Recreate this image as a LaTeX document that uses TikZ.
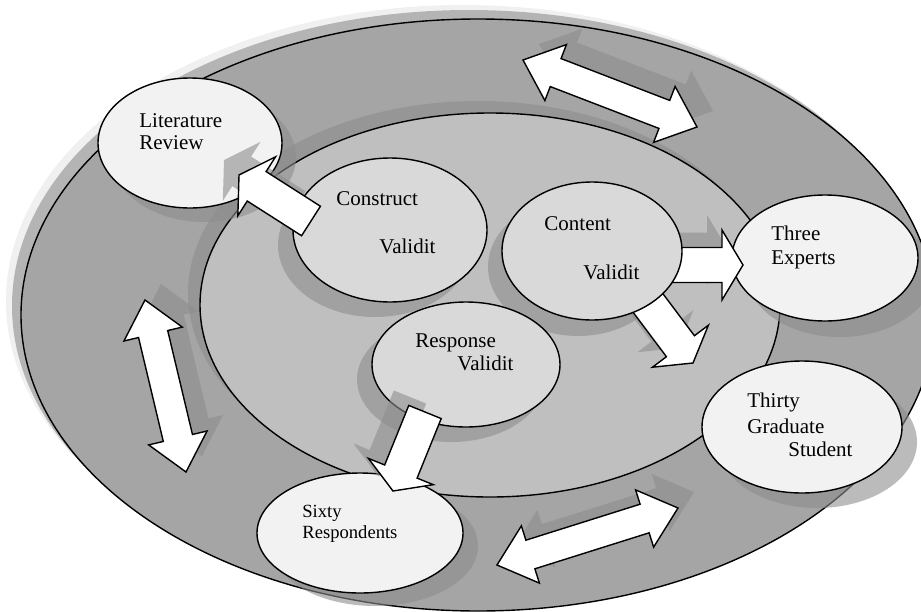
\documentclass[tikz,border=0pt]{standalone}
\usepackage{fontspec}
\setmainfont{Liberation Serif}
\usetikzlibrary{shapes.geometric,calc}
\definecolor{ringc}{HTML}{A5A5A5}
\definecolor{innerc}{HTML}{BFBFBF}
\definecolor{midc}{HTML}{D9D9D9}
\definecolor{lightc}{HTML}{F2F2F2}
\definecolor{shadc}{HTML}{8D8D8D}
% single block arrow: #1 start, #2 tip, #3 style
\newcommand\ArrS[3]{%
  \coordinate (hb) at ($(#2)!10.5pt!(#1)$);
  \draw[#3] ($(#1)!8.75pt!90:(#2)$) -- ($(hb)!8.75pt!90:(#2)$) -- ($(hb)!17.5pt!90:(#2)$) -- (#2)
    -- ($(hb)!17.5pt!-90:(#2)$) -- ($(hb)!8.75pt!-90:(#2)$) -- ($(#1)!8.75pt!-90:(#2)$) -- cycle;}
% double block arrow: #1 tip, #2 tip, #3 style
\newcommand\ArrD[3]{%
  \coordinate (ha) at ($(#1)!17.5pt!(#2)$);
  \coordinate (hc) at ($(#2)!17.5pt!(#1)$);
  \draw[#3] (#1) -- ($(ha)!15pt!90:(#2)$) -- ($(ha)!7.5pt!90:(#2)$) -- ($(hc)!7.5pt!-90:(#1)$)
    -- ($(hc)!15pt!-90:(#1)$) -- (#2) -- ($(hc)!15pt!90:(#1)$) -- ($(hc)!7.5pt!90:(#1)$)
    -- ($(ha)!7.5pt!-90:(#2)$) -- ($(ha)!15pt!-90:(#2)$) -- cycle;}
\newcommand\ShS[3]{\coordinate (sa) at ($(#1)+(#3)$);\coordinate (sb) at ($(#2)+(#3)$);\ArrS{sa}{sb}{shad}}
\newcommand\ShD[3]{\coordinate (sa) at ($(#1)+(#3)$);\coordinate (sb) at ($(#2)+(#3)$);\ArrD{sa}{sb}{shad}}
\tikzset{
  shad/.style={fill=shadc, fill opacity=0.6, draw=none},
  blk/.style={draw=black, fill=white, line width=0.7pt, line join=miter},
  outl/.style={draw=black, line width=0.7pt},
  bignode/.style={ellipse, outl, fill=lightc, inner sep=0pt},
  smallnode/.style={ellipse, outl, fill=midc, inner sep=0pt},
  txt/.style={anchor=base west, inner sep=0pt, font=\fontsize{10.5pt}{12pt}\selectfont},
  txts/.style={anchor=base west, inner sep=0pt, font=\fontsize{9.3pt}{11pt}\selectfont}
}
\begin{document}
\begin{tikzpicture}[x=0.5pt,y=-0.5pt]
\useasboundingbox (0,0) rectangle (921,611);
\clip (0,0) rectangle (921,611);
% centres
\coordinate (oc) at (478,315);
\coordinate (ic) at (490,305);
\coordinate (litc) at (190,143);
\coordinate (conc) at (390,230);
\coordinate (cntc) at (592,251);
\coordinate (resc) at (466,364.5);
\coordinate (thrc) at (825,258);
\coordinate (thic) at (802,427);
\coordinate (sixc) at (360,533);
% big ellipses
\fill[gray!12] ($(oc)+(-15,-14)$) ellipse [x radius=228.5pt, y radius=148pt];
\fill[shad] ($(oc)+(-9,-9)$) ellipse [x radius=228.5pt, y radius=148pt];
\path[outl, fill=ringc] (oc) ellipse [x radius=228.5pt, y radius=148pt];
\fill[shad] ($(ic)+(-12,-12)$) ellipse [x radius=145pt, y radius=96pt];
\path[outl, fill=innerc] (ic) ellipse [x radius=145pt, y radius=96pt];
% node shadows
\fill[shad] ($(litc)+(14,14)$) ellipse [x radius=46pt, y radius=32.5pt];
\fill[shad] ($(conc)+(-15,15)$) ellipse [x radius=48.5pt, y radius=36pt];
\fill[shad] ($(cntc)+(-14,16)$) ellipse [x radius=45pt, y radius=34.5pt];
\fill[shad] ($(resc)+(-15,15)$) ellipse [x radius=47pt, y radius=31.25pt];
\fill[shad] ($(thrc)+(15,16)$) ellipse [x radius=46.5pt, y radius=31.5pt];
\fill[shad] ($(thic)+(15,15)$) ellipse [x radius=50pt, y radius=33pt];
\fill[shad] ($(sixc)+(15,13)$) ellipse [x radius=51.5pt, y radius=30pt];
% arrow end points
\coordinate (dA1) at (523,60);  \coordinate (dA2) at (697,127);
\coordinate (dB1) at (145,300); \coordinate (dB2) at (186,472);
\coordinate (dC1) at (497,565); \coordinate (dC2) at (678,508);
\coordinate (s1a) at (311,221); \coordinate (s1b) at (239,175);
\coordinate (s2a) at (600,265); \coordinate (s2b) at (743,265);
\coordinate (s3a) at (615,259); \coordinate (s3b) at (693,363);
\coordinate (s4a) at (425,412); \coordinate (s4b) at (393,491);
% double arrow shadows
\ShD{dA1}{dA2}{16,-16}
\ShD{dB1}{dB2}{16,-16}
\ShD{dC1}{dC2}{16,-16}
% outer nodes
\node[bignode, minimum width=92pt, minimum height=65pt] (lit) at (litc) {};
\node[bignode, minimum width=93pt, minimum height=63pt] (three) at (thrc) {};
\node[bignode, minimum width=100pt, minimum height=66pt] (thirty) at (thic) {};
\node[bignode, minimum width=103pt, minimum height=60pt] (sixty) at (sixc) {};
% double arrows
\ArrD{dA1}{dA2}{blk}
\ArrD{dB1}{dB2}{blk}
\ArrD{dC1}{dC2}{blk}
% content arrows
\ShS{s2a}{s2b}{-15,-15}
\ShS{s3a}{s3b}{-15,-15}
\ArrS{s2a}{s2b}{blk}
\ArrS{s3a}{s3b}{blk}
% inner nodes
\node[smallnode, minimum width=97pt, minimum height=72pt] (con) at (conc) {};
\node[smallnode, minimum width=90pt, minimum height=69pt] (cnt) at (cntc) {};
\node[smallnode, minimum width=94pt, minimum height=62.5pt] (res) at (resc) {};
% remaining arrows
\ShS{s1a}{s1b}{-15,-15}
\ShS{s4a}{s4b}{-15,-15}
\ArrS{s1a}{s1b}{blk}
\ArrS{s4a}{s4b}{blk}
% texts
\node[txt] (t1) at (139,127) {Literature};
\node[txt] (t2) at (139,149) {Review};
\node[txt] (t3) at (336,205) {Construct};
\node[txt] (t4) at (379,253) {Validit};
\node[txt] (t5) at (544,230) {Content};
\node[txt] (t6) at (583,279) {Validit};
\node[txt] (t7) at (771,240) {Three};
\node[txt] (t8) at (771,264) {Experts};
\node[txt] (t9) at (415,347) {Response};
\node[txt] (t10) at (457,370) {Validit};
\node[txt] (t11) at (747,407) {Thirty};
\node[txt] (t12) at (747,433) {Graduate};
\node[txt] (t13) at (788,456) {Student};
\node[txts] (t14) at (302,517) {Sixty};
\node[txts] (t15) at (302,538) {Respondents};
\end{tikzpicture}
\end{document}
